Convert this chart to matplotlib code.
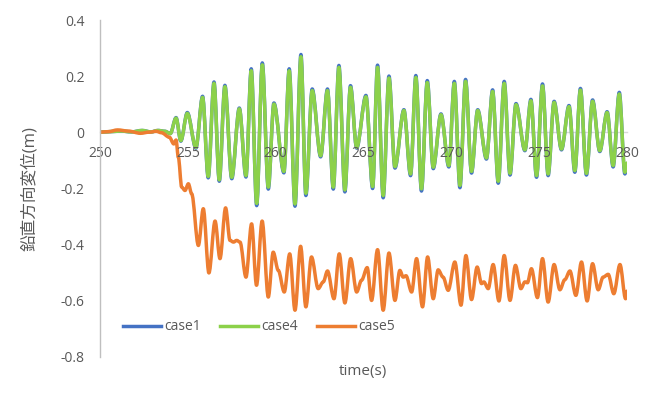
import matplotlib
matplotlib.use("Agg")
import matplotlib.pyplot as plt
from matplotlib.path import Path
from matplotlib.patches import PathPatch
from matplotlib.lines import Line2D

plt.rcParams["font.family"] = ["Open Sans", "Noto Sans CJK JP", "DejaVu Sans"]

# time points for case1 / case4 (peaks and troughs)
t_14 = [250, 250.6, 251.2, 251.8, 252.4, 252.9, 253.3, 253.7, 254.0, 254.33,
        254.6, 254.97, 255.46, 255.84, 256.16, 256.49, 256.79, 257.11, 257.5, 257.93,
        258.31, 258.61, 258.92, 259.24, 259.58, 259.9, 260.47, 260.77, 261.1, 261.44,
        261.72, 262.08, 262.56, 262.95, 263.28, 263.6, 263.94, 264.26, 264.61, 265.14,
        265.52, 265.8, 266.12, 266.45, 266.79, 267.3, 267.68, 267.98, 268.3, 268.63,
        268.97, 269.41, 269.86, 270.17, 270.49, 270.81, 271.15, 271.5, 272.0, 272.35,
        272.67, 273.01, 273.34, 273.68, 274.19, 274.53, 274.85, 275.19, 275.51, 275.85,
        276.27, 276.7, 277.03, 277.35, 277.69, 278.04, 278.45, 278.87, 279.21, 279.56,
        279.88, 280.0]

case1 = [0.0, 0.002, 0.004, 0.001, 0.006, 0.001, 0.006, 0.003, -0.005, 0.052,
         -0.032, 0.07, -0.057, 0.128, -0.163, 0.179, -0.175, 0.167, -0.166, 0.086,
         -0.16, 0.226, -0.262, 0.247, -0.203, 0.104, -0.145, 0.226, -0.264, 0.277,
         -0.226, 0.154, -0.088, 0.154, -0.203, 0.238, -0.213, 0.166, -0.057, 0.131,
         -0.201, 0.239, -0.234, 0.2, -0.128, 0.08, -0.155, 0.202, -0.21, 0.184,
         -0.13, 0.065, -0.124, 0.181, -0.198, 0.188, -0.146, 0.08, -0.096, 0.151,
         -0.182, 0.181, -0.153, 0.102, -0.066, 0.117, -0.161, 0.172, -0.155, 0.11,
         -0.063, 0.095, -0.143, 0.156, -0.153, 0.115, -0.069, 0.073, -0.124, 0.142,
         -0.149, -0.115]

case4 = [0.0, 0.002, 0.004, 0.001, 0.006, 0.001, 0.006, 0.003, -0.005, 0.05,
         -0.03, 0.067, -0.054, 0.124, -0.158, 0.174, -0.17, 0.162, -0.161, 0.083,
         -0.155, 0.219, -0.254, 0.24, -0.196, 0.1, -0.14, 0.219, -0.256, 0.269,
         -0.218, 0.148, -0.084, 0.148, -0.196, 0.231, -0.206, 0.16, -0.054, 0.126,
         -0.194, 0.231, -0.226, 0.193, -0.123, 0.077, -0.149, 0.195, -0.202, 0.177,
         -0.125, 0.062, -0.119, 0.174, -0.19, 0.181, -0.14, 0.077, -0.092, 0.145,
         -0.175, 0.174, -0.147, 0.098, -0.063, 0.112, -0.155, 0.165, -0.149, 0.106,
         -0.06, 0.091, -0.137, 0.15, -0.147, 0.11, -0.066, 0.07, -0.119, 0.136,
         -0.143, -0.11]

t_5 = [250, 250.5, 251.0, 251.6, 252.3, 252.8, 253.2, 253.5, 253.95, 254.2,
       254.33, 254.46, 254.65, 254.84, 255.03, 255.22, 255.6, 255.88, 256.2, 256.55,
       256.83, 257.15, 257.4, 257.6, 257.78, 257.97, 258.31, 258.63, 258.91, 259.23,
       259.58, 259.86, 260.15, 260.49, 260.8, 261.1, 261.42, 261.72, 262.04, 262.42,
       262.71, 262.95, 263.32, 263.62, 263.94, 264.27, 264.61, 264.89, 265.21, 265.46,
       265.8, 266.12, 266.45, 266.79, 267.07, 267.26, 267.42, 267.74, 268.02, 268.36,
       268.65, 268.97, 269.25, 269.53, 269.82, 270.2, 270.55, 270.83, 271.15, 271.47,
       271.72, 271.85, 272.1, 272.38, 272.71, 273.01, 273.34, 273.65, 273.96, 274.19,
       274.33, 274.56, 274.9, 275.19, 275.51, 275.85, 276.18, 276.46, 276.75, 277.09,
       277.41, 277.73, 278.04, 278.36, 278.64, 278.93, 279.25, 279.6, 279.92, 280.0]

case5 = [0.0, 0.002, 0.008, 0.004, -0.004, 0.0, 0.003, -0.002, -0.018, -0.042,
         -0.028, -0.09, -0.196, -0.208, -0.184, -0.22, -0.404, -0.273, -0.502, -0.317,
         -0.451, -0.27, -0.386, -0.392, -0.386, -0.392, -0.517, -0.327, -0.546, -0.317,
         -0.588, -0.428, -0.493, -0.57, -0.434, -0.635, -0.407, -0.623, -0.445, -0.558,
         -0.534, -0.495, -0.594, -0.434, -0.609, -0.451, -0.57, -0.528, -0.483, -0.6,
         -0.419, -0.635, -0.431, -0.6, -0.493, -0.517, -0.512, -0.57, -0.451, -0.623,
         -0.445, -0.594, -0.491, -0.517, -0.564, -0.463, -0.617, -0.44, -0.597, -0.481,
         -0.54, -0.534, -0.558, -0.472, -0.602, -0.44, -0.6, -0.475, -0.558, -0.534,
         -0.537, -0.487, -0.59, -0.451, -0.606, -0.472, -0.562, -0.526, -0.495, -0.582,
         -0.463, -0.602, -0.469, -0.562, -0.517, -0.507, -0.576, -0.472, -0.594, -0.567]

names = ["case1", "case4", "case5"]
colors = ["#4472C4", "#8CD14A", "#ED7D31"]
GRAY = "#595959"


def smooth_path(x, y):
    # Excel-like smoothed line: bezier segments with flat tangents at each point
    verts = [(x[0], y[0])]
    codes = [Path.MOVETO]
    for i in range(1, len(x)):
        dx = (x[i] - x[i - 1]) / 3
        verts += [(x[i - 1] + dx, y[i - 1]), (x[i] - dx, y[i]), (x[i], y[i])]
        codes += [Path.CURVE4] * 3
    return Path(verts, codes)


fig = plt.figure(figsize=(6.6, 3.96), dpi=100)
ax = fig.add_axes([100 / 660, 1 - 356.5 / 396, 527 / 660, 336.5 / 396])

series = [(t_14, case1), (t_14, case4), (t_5, case5)]
for (x, y), c in zip(series, colors):
    ax.add_patch(PathPatch(smooth_path(x, y), fill=False, edgecolor=c, lw=2.5,
                           joinstyle="round", capstyle="round"))

ax.set_xlim(250, 280)
ax.set_ylim(-0.8, 0.4)
ax.set_xticks([250, 255, 260, 265, 270, 275, 280])
ax.set_yticks([-0.8, -0.6, -0.4, -0.2, 0, 0.2, 0.4])
ax.set_yticklabels(["-0.8", "-0.6", "-0.4", "-0.2", "0", "0.2", "0.4"])

ax.spines["top"].set_visible(False)
ax.spines["right"].set_visible(False)
ax.spines["left"].set_color("#BFBFBF")
ax.spines["left"].set_linewidth(1.0)
ax.spines["bottom"].set_position(("data", 0))
ax.spines["bottom"].set_color("#D9D9D9")
ax.spines["bottom"].set_linewidth(1.0)
ax.spines["bottom"].set_zorder(0)
ax.tick_params(axis="x", length=0, pad=10, labelsize=10, labelcolor=GRAY)
ax.tick_params(axis="y", length=0, pad=11, labelsize=10, labelcolor=GRAY)

ax.set_ylabel("鉛直方向変位(m)", fontsize=12, color=GRAY)
ax.yaxis.set_label_coords((38 - 100) / 527, 0.5)
fig.text(363 / 660, 1 - 372 / 396, "time(s)", fontsize=11, color=GRAY,
         ha="center", va="center")

handles = [Line2D([], [], color=c, lw=2.5) for c in colors]
fig.legend(handles, names, loc="center left", bbox_to_anchor=(123 / 660, 1 - 327 / 396),
           ncol=3, frameon=False, fontsize=10, handlelength=2.7, handletextpad=0.25,
           columnspacing=1.4, borderpad=0, borderaxespad=0, labelcolor=GRAY)

fig.savefig("out.png", dpi=100)
